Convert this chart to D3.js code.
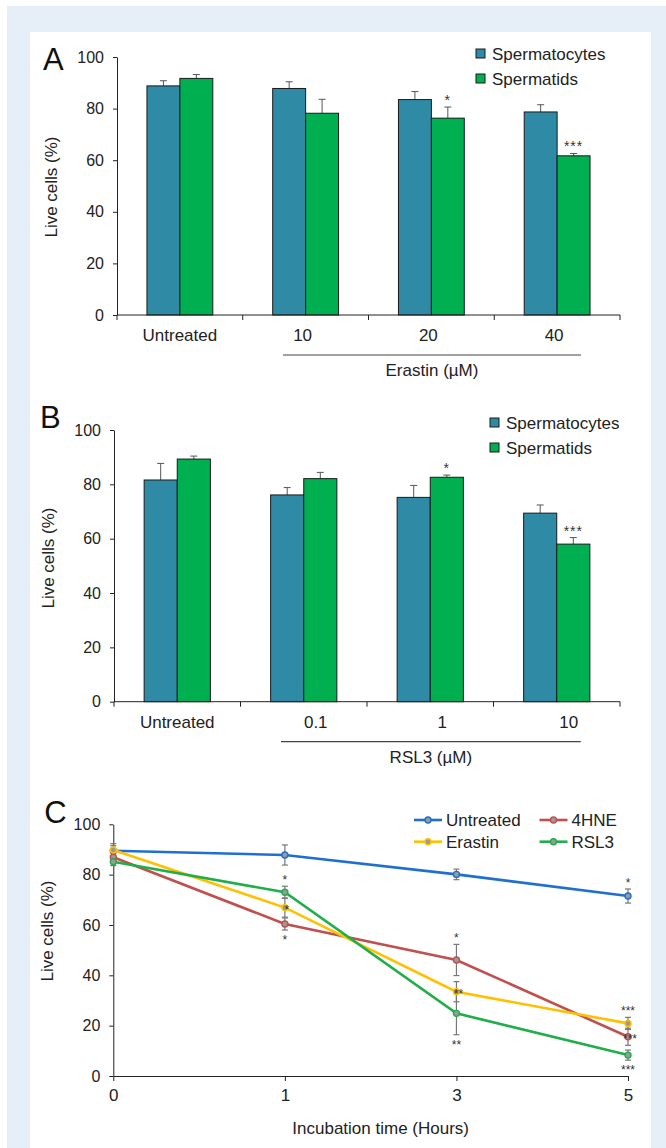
<!DOCTYPE html>
<html>
<head>
<meta charset="utf-8">
<script src="https://cdn.jsdelivr.net/npm/d3@7"></script>
<style>
  html, body { margin: 0; padding: 0; background: #fff; }
  svg { display: block; font-family: "Liberation Sans", Arial, sans-serif; }
</style>
</head>
<body>
<svg id="fig" width="666" height="1148"></svg>
<script>
// ── Panel A: Erastin ─────────────────────────────────────────
const groupsA        = ["Untreated", "10", "20", "40"];
const spermatocytesA = [88.8, 87.8, 83.5, 78.7];
const spermatocytesAErr = [2.0, 2.6, 3.1, 2.8];
const spermatidsA    = [91.7, 78.2, 76.3, 61.7];
const spermatidsAErr = [1.5, 5.4, 4.3, 0.9];
const sigA           = ["", "", "*", "***"];

// ── Panel B: RSL3 ────────────────────────────────────────────
const groupsB        = ["Untreated", "0.1", "1", "10"];
const spermatocytesB = [81.6, 76.1, 75.2, 69.4];
const spermatocytesBErr = [6.1, 2.7, 4.4, 3.0];
const spermatidsB    = [89.3, 82.1, 82.6, 58.0];
const spermatidsBErr = [1.1, 2.3, 0.8, 2.4];
const sigB           = ["", "", "*", "***"];

// ── Panel C: time course ─────────────────────────────────────
const hours        = ["0", "1", "3", "5"];
const untreatedC   = [89.5, 87.8, 80.1, 71.5];
const untreatedErr = [2.0, 4.0, 2.1, 2.8];
const hneC         = [86.9, 60.4, 46.1, 15.6];
const hneErr       = [1.5, 2.4, 6.2, 3.4];
const erastinC     = [89.8, 66.9, 33.5, 20.9];
const erastinErr   = [2.5, 3.8, 4.0, 2.4];
const rsl3C        = [85.1, 73.0, 24.9, 8.3];
const rsl3Err      = [1.5, 2.4, 8.5, 2.0];
// significance marks: [series, time index, text, where]
const sigC = [
  ["RSL3", 1, "*", "above"], ["Erastin", 1, "*", "on"], ["4HNE", 1, "*", "below"],
  ["4HNE", 2, "*", "above"], ["Erastin", 2, "**", "on"], ["RSL3", 2, "**", "below"],
  ["Untreated", 3, "*", "above"], ["Erastin", 3, "***", "above"],
  ["4HNE", 3, "***", "on"], ["RSL3", 3, "***", "below"]
];

const yTicks   = [0, 20, 40, 60, 80, 100];
const barColor = { Spermatocytes: "#2f8aa6", Spermatids: "#00b050" };

const svg = d3.select("#fig");

// background frame
svg.append("rect").attr("x", 7).attr("y", 6).attr("width", 659).attr("height", 1142).attr("fill", "#e6eef8");
svg.append("rect").attr("x", 30).attr("y", 32).attr("width", 621).attr("height", 1116).attr("fill", "#fff");

function yAxis(g, y, x0, labelY) {
  const ax = g.append("g")
    .attr("transform", `translate(${x0},0)`)
    .call(d3.axisLeft(y).tickValues(yTicks).tickSize(4).tickSizeOuter(0).tickPadding(9));
  ax.select(".domain").attr("stroke", "#222");
  ax.selectAll(".tick line").attr("stroke", "#222");
  ax.selectAll(".tick text").attr("font-size", 16).attr("fill", "#222").attr("font-family", null);
  g.append("text")
    .attr("transform", `translate(${x0 - 60},${labelY}) rotate(-90)`)
    .attr("text-anchor", "middle")
    .attr("font-size", 17).attr("fill", "#222")
    .text("Live cells (%)");
}

// ──────────────────────────────────────────────────────────────
// Bar panels (A and B)
// ──────────────────────────────────────────────────────────────
function drawBarPanel(p) {
  const g = svg.append("g");
  const x = d3.scaleBand().domain(p.groups).range([p.left, p.right]);
  const sub = d3.scaleBand().domain(["Spermatocytes", "Spermatids"])
    .range([0, x.bandwidth()]).paddingOuter(0.91);
  const y = d3.scaleLinear().domain([0, 100]).range([p.bottom, p.top]);

  const rows = p.groups.map((grp, i) => ({
    grp,
    vals: [
      { s: "Spermatocytes", v: p.sc[i], e: p.scErr[i] },
      { s: "Spermatids",    v: p.st[i], e: p.stErr[i] }
    ],
    sig: p.sig[i]
  }));

  const grpG = g.selectAll("g.grp").data(rows).join("g")
    .attr("transform", d => `translate(${x(d.grp)},0)`);

  // error bars (upward only)
  const eb = grpG.selectAll("g.eb").data(d => d.vals).join("g");
  eb.append("line")
    .attr("x1", d => sub(d.s) + sub.bandwidth() / 2).attr("x2", d => sub(d.s) + sub.bandwidth() / 2)
    .attr("y1", d => y(d.v)).attr("y2", d => y(d.v + d.e))
    .attr("stroke", "#555").attr("stroke-width", 1);
  eb.append("line")
    .attr("x1", d => sub(d.s) + sub.bandwidth() / 2 - 3.5).attr("x2", d => sub(d.s) + sub.bandwidth() / 2 + 3.5)
    .attr("y1", d => y(d.v + d.e)).attr("y2", d => y(d.v + d.e))
    .attr("stroke", "#555").attr("stroke-width", 1);

  grpG.selectAll("rect").data(d => d.vals).join("rect")
    .attr("x", d => sub(d.s)).attr("width", sub.bandwidth())
    .attr("y", d => y(d.v)).attr("height", d => y(0) - y(d.v))
    .attr("fill", d => barColor[d.s])
    .attr("stroke", "#1a1a1a").attr("stroke-width", 1);

  // stars over spermatids
  grpG.append("text")
    .attr("x", sub("Spermatids") + sub.bandwidth() / 2)
    .attr("y", d => y(d.vals[1].v + d.vals[1].e) - 2)
    .attr("text-anchor", "middle").attr("font-size", 14).attr("fill", "#333")
    .attr("letter-spacing", 1)
    .text(d => d.sig);

  yAxis(g, y, p.left, p.yLabelY);

  // x baseline + group boundary ticks
  g.append("line").attr("x1", p.left).attr("x2", p.right)
    .attr("y1", y(0)).attr("y2", y(0)).attr("stroke", "#222");
  const bounds = p.groups.map(d => x(d)).concat([p.right]);
  g.selectAll("line.bt").data(bounds).join("line")
    .attr("x1", d => d).attr("x2", d => d)
    .attr("y1", y(0)).attr("y2", y(0) + 5).attr("stroke", "#222");

  g.selectAll("text.cat").data(p.groups).join("text")
    .attr("x", (d, i) => x(d) + x.bandwidth() / 2 + (i ? p.labelShift : 0))
    .attr("y", y(0) + 26)
    .attr("text-anchor", "middle").attr("font-size", 17).attr("fill", "#222")
    .text(d => d);

  // treatment bracket
  const bx1 = x(p.groups[1]) + x.bandwidth() * 0.32;
  const bx2 = x(p.groups[3]) + x.bandwidth() * 0.69;
  g.append("line").attr("x1", bx1).attr("x2", bx2)
    .attr("y1", y(0) + 40).attr("y2", y(0) + 40).attr("stroke", "#444").attr("stroke-width", 1.2);
  g.append("text").attr("x", (bx1 + bx2) / 2).attr("y", y(0) + 61)
    .attr("text-anchor", "middle").attr("font-size", 17).attr("fill", "#222")
    .text(p.treatment);

  // panel letter
  g.append("text").attr("x", p.left - 74).attr("y", p.letterY)
    .attr("font-size", 31).attr("fill", "#111").text(p.letter);

  // legend
  const lg = g.append("g").attr("transform", `translate(${p.legendX},${p.legendY})`);
  ["Spermatocytes", "Spermatids"].forEach((s, i) => {
    lg.append("rect").attr("x", 0).attr("y", i * 25 - 11).attr("width", 9).attr("height", 9)
      .attr("fill", barColor[s]).attr("stroke", "#1a1a1a");
    lg.append("text").attr("x", 16).attr("y", i * 25).attr("font-size", 17).attr("fill", "#222").text(s);
  });
}

drawBarPanel({
  groups: groupsA, sc: spermatocytesA, scErr: spermatocytesAErr,
  st: spermatidsA, stErr: spermatidsAErr, sig: sigA,
  left: 117, right: 620, top: 57, bottom: 315,
  labelShift: -3, treatment: "Erastin (µM)", letter: "A", letterY: 70,
  yLabelY: 187, legendX: 476, legendY: 60
});

drawBarPanel({
  groups: groupsB, sc: spermatocytesB, scErr: spermatocytesBErr,
  st: spermatidsB, stErr: spermatidsBErr, sig: sigB,
  left: 114, right: 620, top: 430, bottom: 701.7,
  labelShift: 12, treatment: "RSL3 (µM)", letter: "B", letterY: 428,
  yLabelY: 558, legendX: 490, legendY: 429
});

// ──────────────────────────────────────────────────────────────
// Panel C: line chart
// ──────────────────────────────────────────────────────────────
(function drawLines() {
  const g = svg.append("g");
  const left = 113.3, right = 628, top = 824.3, bottom = 1076;
  const x = d3.scalePoint().domain(hours).range([left, right]);
  const y = d3.scaleLinear().domain([0, 100]).range([bottom, top]);

  const series = [
    { name: "Untreated", vals: untreatedC, err: untreatedErr, color: "#1f6fd1" },
    { name: "4HNE",      vals: hneC,       err: hneErr,       color: "#c0504d" },
    { name: "Erastin",   vals: erastinC,   err: erastinErr,   color: "#ffc000" },
    { name: "RSL3",      vals: rsl3C,      err: rsl3Err,      color: "#1fae4a" }
  ];
  const byName = Object.fromEntries(series.map(s => [s.name, s]));

  yAxis(g, y, left, 931);

  // x axis
  const xa = g.append("g").attr("transform", `translate(0,${bottom})`)
    .call(d3.axisBottom(x).tickSize(5).tickSizeOuter(0).tickPadding(8));
  xa.select(".domain").attr("stroke", "#222");
  xa.selectAll(".tick line").attr("stroke", "#222");
  xa.selectAll(".tick text").attr("font-size", 17).attr("fill", "#222").attr("font-family", null);
  g.append("text").attr("x", (left + right) / 2 + 10).attr("y", bottom + 58)
    .attr("text-anchor", "middle").attr("font-size", 17).attr("fill", "#222")
    .text("Incubation time (Hours)");

  // error bars
  series.forEach(s => {
    s.vals.forEach((v, i) => {
      const cx = x(hours[i]);
      g.append("line").attr("x1", cx).attr("x2", cx)
        .attr("y1", y(v - s.err[i])).attr("y2", y(v + s.err[i]))
        .attr("stroke", "#777").attr("stroke-width", 1.2);
      [v - s.err[i], v + s.err[i]].forEach(e => {
        g.append("line").attr("x1", cx - 3).attr("x2", cx + 3)
          .attr("y1", y(e)).attr("y2", y(e))
          .attr("stroke", "#777").attr("stroke-width", 1.2);
      });
    });
  });

  const line = d3.line().x((d, i) => x(hours[i])).y(d => y(d));
  series.forEach(s => {
    g.append("path").datum(s.vals).attr("d", line)
      .attr("fill", "none").attr("stroke", s.color).attr("stroke-width", 2.6);
    g.selectAll(null).data(s.vals).join("circle")
      .attr("cx", (d, i) => x(hours[i])).attr("cy", d => y(d)).attr("r", 3)
      .attr("fill", "#9a9a9a").attr("stroke", s.color).attr("stroke-width", 1.4);
  });

  // significance marks
  sigC.forEach(([name, i, txt, where]) => {
    const s = byName[name];
    const v = s.vals[i], e = s.err[i];
    let ty;
    if (where === "above") ty = y(v + e) - 2;
    else if (where === "below") ty = y(v - e) + 14;
    else ty = y(v) + 6;
    g.append("text").attr("x", x(hours[i]) + (where === "on" ? 2 : 0)).attr("y", ty)
      .attr("text-anchor", "middle").attr("font-size", 12).attr("fill", "#333")
      .text(txt);
  });

  // letter
  g.append("text").attr("x", left - 69).attr("y", 823)
    .attr("font-size", 31).attr("fill", "#111").text("C");

  // legend: 2x2
  const legendOrder = [["Untreated", 0, 0], ["4HNE", 1, 0], ["Erastin", 0, 1], ["RSL3", 1, 1]];
  const lg = g.append("g").attr("transform", "translate(414,820)");
  legendOrder.forEach(([name, col, row]) => {
    const s = byName[name];
    const lx = col * 125.5, ly = row * 21.7;
    lg.append("line").attr("x1", lx).attr("x2", lx + 28).attr("y1", ly).attr("y2", ly)
      .attr("stroke", s.color).attr("stroke-width", 2.6);
    lg.append("circle").attr("cx", lx + 14).attr("cy", ly).attr("r", 3)
      .attr("fill", "#9a9a9a").attr("stroke", s.color).attr("stroke-width", 1.4);
    lg.append("text").attr("x", lx + 32).attr("y", ly + 6)
      .attr("font-size", 17).attr("fill", "#222").text(name);
  });
})();
</script>
</body>
</html>
